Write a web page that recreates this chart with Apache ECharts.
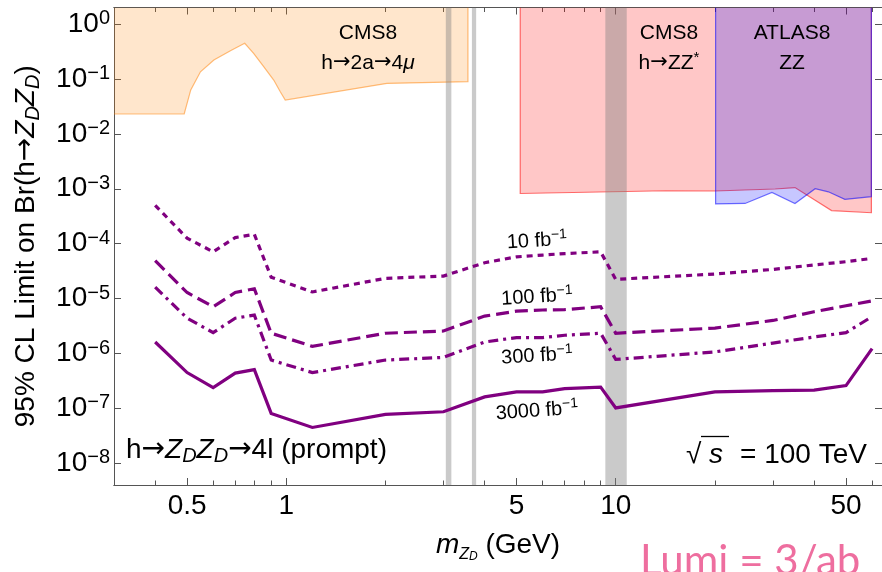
<!DOCTYPE html>
<html><head><meta charset="utf-8">
<script src="https://cdn.jsdelivr.net/npm/echarts@6/dist/echarts.min.js"></script>
<style>html,body{margin:0;padding:0;background:#fff}#c{width:882px;height:572px}</style>
</head><body><div id="c"></div>
<script>
// ---- data ----
const mass = [0.4,0.5,0.6,0.7,0.8,0.9,1.2,2,3,4,5,6,7,9,10,20,30,40,50,60];
const lim10   = [5.0e-4,1.26e-4,7.1e-5,1.29e-4,1.48e-4,2.45e-5,1.32e-5,2.34e-5,2.57e-5,4.5e-5,5.75e-5,6.2e-5,6.6e-5,7.1e-5,2.24e-5,2.8e-5,3.4e-5,4.1e-5,4.7e-5,5.4e-5];
const lim100  = [4.9e-5,1.29e-5,7.1e-6,1.29e-5,1.51e-5,2.34e-6,1.35e-6,2.34e-6,2.57e-6,4.8e-6,5.9e-6,6.2e-6,6.3e-6,7.1e-6,2.34e-6,2.9e-6,4.0e-6,5.75e-6,7.4e-6,9.1e-6];
const lim300  = [1.62e-5,4.4e-6,2.4e-6,4.4e-6,5.0e-6,7.6e-7,4.5e-7,7.6e-7,8.5e-7,1.62e-6,1.95e-6,1.95e-6,2.15e-6,2.34e-6,7.8e-7,1.07e-6,1.55e-6,2.0e-6,2.4e-6,4.7e-6];
const lim3000 = [1.62e-6,4.5e-7,2.4e-7,4.4e-7,5.1e-7,8.1e-8,4.5e-8,7.8e-8,8.7e-8,1.62e-7,2.0e-7,2.0e-7,2.3e-7,2.45e-7,1.02e-7,2.0e-7,2.1e-7,2.15e-7,2.6e-7,1.23e-6];
const cmsHaa = [[0.3,0.023],[0.49,0.023],[0.513,0.063],[0.549,0.135],[0.603,0.221],[0.677,0.327],[0.748,0.445],[0.796,0.292],[0.854,0.167],[0.916,0.0955],[0.959,0.0585],[0.993,0.0413],[2.02,0.083],[3.56,0.089]];
const cmsZZ = [[5.13,8.2e-4],[14.2,9.2e-4],[20,9.1e-4],[30.5,9.9e-4],[35,1.05e-3],[40.3,6.2e-4],[45.2,4.0e-4],[59.7,3.66e-4]];
const atlasZZ = [[20.1,5.3e-4],[24.7,5.4e-4],[29.8,8.6e-4],[35,5.4e-4],[40.3,1.0e-3],[44.2,8.8e-4],[49.6,6.4e-4],[59.7,7.2e-4]];
const vetoBands = [[3.05,3.17],[3.66,3.77],[9.3,10.8]];
const xMajorTicks = [0.5,1,5,10,50];
const xMinorTicks = [0.4,0.6,0.7,0.8,0.9,2,3,4,6,7,8,9,20,30,40,60];
const yTicks = [1e-8,1e-7,1e-6,1e-5,1e-4,1e-3,1e-2,1e-1,1];
const X_MIN = 0.3, X_MAX = 64.3, Y_MIN = 4.03e-9, Y_MAX = 2.0;

// ---- styling ----
const FONT = '"Liberation Sans", Arial, sans-serif';
const AFONT = '"DejaVu Sans", "Liberation Sans", sans-serif';
const PURPLE = '#800080';
const AX = '#555';
const FS = 28;

const chart = echarts.init(document.getElementById('c'));

function expLabel(v){
  const e = Math.round(Math.log10(v));
  return '{b|10}{s|' + (e < 0 ? '\u2212' + (-e) : String(e)) + '}';
}
const yLabelRich = {
  b:{fontSize:FS, lineHeight:31, fontFamily:FONT, color:'#000'},
  s:{fontSize:20, lineHeight:20, fontFamily:FONT, color:'#000', verticalAlign:'top'}
};

function xAxisDef(pos, ticks, len, withLabels){
  return {
    type:'log', position:pos, min:X_MIN, max:X_MAX, gridIndex:0,
    axisLine:{show:true, lineStyle:{color:AX, width:1}},
    axisTick:{show:true, inside:true, length:len, customValues:ticks, lineStyle:{color:AX, width:1}},
    axisLabel:{show:withLabels, customValues:xMajorTicks, margin:7, fontSize:FS, fontFamily:FONT, color:'#000',
      formatter:v => String(+(+v).toPrecision(3))},
    splitLine:{show:false}, minorTick:{show:false}, minorSplitLine:{show:false},
    name: withLabels ? '{i|m}{z|Z}{d|D}{n| (GeV)}' : '',
    nameLocation:'middle', nameGap:45,
    nameTextStyle:{rich:{
      i:{fontSize:FS, fontStyle:'italic', fontFamily:FONT, color:'#000', lineHeight:32, verticalAlign:'top'},
      n:{fontSize:FS, fontFamily:FONT, color:'#000', lineHeight:32, verticalAlign:'top'},
      z:{fontSize:16, fontStyle:'italic', fontFamily:FONT, color:'#000', lineHeight:16, padding:[22,0,0,0], verticalAlign:'bottom'},
      d:{fontSize:12, fontStyle:'italic', fontFamily:FONT, color:'#000', lineHeight:12, padding:[26,0,0,0], verticalAlign:'bottom'}
    }}
  };
}

function regionSeries(points, fill, stroke, leftEdge){
  return {
    type:'custom', coordinateSystem:'cartesian2d', clip:true, silent:true, z:1, animation:false,
    data:[points[0]],
    renderItem(params, api){
      const top = params.coordSys.y;
      const pts = points.map(p => api.coord(p));
      const last = pts[pts.length-1];
      const poly = [[pts[0][0], top]].concat(pts, [[last[0], top]]);
      const border = leftEdge ? poly : pts.concat([[last[0], top]]);
      return {type:'group', children:[
        {type:'polygon', shape:{points:poly}, style:{fill:fill}},
        {type:'polyline', shape:{points:border}, style:{stroke:stroke, fill:null, lineWidth:1.2}}
      ]};
    }
  };
}

function curve(name, vals, dash){
  return {
    type:'line', name:name, data:mass.map((m,i) => [m, vals[i]]),
    showSymbol:false, symbol:'none', z:5, silent:true, animation:false,
    lineStyle:{color:PURPLE, width:3.2, type:dash, cap:'butt', join:'miter'}
  };
}

function txt(x, y, text, rich, align, rotation){
  return {type:'text', x:x, y:y, rotation:rotation || 0, silent:true, z:10,
    style:{text:text, rich:rich, align:align || 'center', verticalAlign:'middle', fontFamily:FONT}};
}
const tRich = (size, color) => ({
  n:{fontSize:size, fontFamily:FONT, color:color, lineHeight:size+4},
  a:{fontSize:size, fontFamily:AFONT, color:color, lineHeight:size+4},
  i:{fontSize:size, fontFamily:FONT, color:color, fontStyle:'italic', lineHeight:size+4},
  p:{fontSize:Math.round(size*0.7), fontFamily:FONT, color:color, lineHeight:Math.round(size*0.7), verticalAlign:'top'},
  b:{fontSize:Math.round(size*0.7), fontFamily:FONT, color:color, fontStyle:'italic', lineHeight:Math.round(size*0.7), padding:[Math.round(size*0.55),0,0,0], verticalAlign:'bottom'}
});

const lumiRich = tRich(20, PURPLE);

chart.setOption({
  animation:false,
  backgroundColor:'#fff',
  grid:{left:113, right:-2, top:7.5, bottom:87, containLabel:false},
  xAxis:[
    xAxisDef('bottom', xMajorTicks, 7, true),
    xAxisDef('bottom', xMinorTicks, 4.5, false),
    xAxisDef('top', xMajorTicks, 7, false),
    xAxisDef('top', xMinorTicks, 4.5, false)
  ],
  yAxis:[
    {type:'log', position:'left', min:Y_MIN, max:Y_MAX,
     axisLine:{show:true, lineStyle:{color:AX}},
     axisTick:{show:true, inside:true, length:7, customValues:yTicks, lineStyle:{color:AX}},
     axisLabel:{show:true, customValues:yTicks, margin:4, formatter:expLabel, rich:yLabelRich},
     splitLine:{show:false}, minorTick:{show:false},
     name:'{n|95% CL Limit on Br(h}{a|\u2192}{i|Z}{b|D}{i|Z}{b|D}{n|)}',
     nameLocation:'middle', nameGap:71, nameRotate:90,
     nameTextStyle:{rich:{
       n:{fontSize:FS, fontFamily:FONT, color:'#000', lineHeight:31, verticalAlign:'top'},
       a:{fontSize:FS, fontFamily:AFONT, color:'#000', lineHeight:31, verticalAlign:'top'},
       i:{fontSize:FS, fontFamily:FONT, color:'#000', fontStyle:'italic', lineHeight:31, verticalAlign:'top'},
       b:{fontSize:20, fontFamily:FONT, color:'#000', fontStyle:'italic', lineHeight:20, padding:[15,0,0,0], verticalAlign:'bottom'}
     }}
    },
    {type:'log', position:'right', min:Y_MIN, max:Y_MAX,
     axisLine:{show:true, lineStyle:{color:AX}},
     axisTick:{show:true, inside:true, length:7, customValues:yTicks, lineStyle:{color:AX}},
     axisLabel:{show:false}, splitLine:{show:false}, minorTick:{show:false}}
  ],
  series:[
    regionSeries(cmsHaa, 'rgba(255,128,0,0.2)', 'rgba(255,128,0,0.5)', false),
    regionSeries(cmsZZ, 'rgba(255,0,0,0.22)', 'rgba(255,0,0,0.55)', true),
    regionSeries(atlasZZ, 'rgba(0,0,255,0.22)', 'rgba(0,0,255,0.55)', true),
    {type:'custom', coordinateSystem:'cartesian2d', clip:true, silent:true, z:2, animation:false,
     data:vetoBands,
     renderItem(params, api){
       const cs = params.coordSys;
       const x0 = api.coord([api.value(0), 1])[0];
       const x1 = api.coord([api.value(1), 1])[0];
       return {type:'rect', shape:{x:x0, y:cs.y, width:x1-x0, height:cs.height}, style:{fill:'rgba(128,128,128,0.42)'}};
     }},
    curve('10 fb-1', lim10, [6,5]),
    curve('100 fb-1', lim100, [13,6]),
    curve('300 fb-1', lim300, [10,5,3,5]),
    curve('3000 fb-1', lim3000, 'solid')
  ],
  graphic:[
    txt(368, 33, '{n|CMS8}', tRich(21,'#B8650F')),
    txt(368, 63, '{n|h}{a|\u2192}{n|2a}{a|\u2192}{n|4}{i|\u03bc}', tRich(21,'#B8650F')),
    txt(669, 33, '{n|CMS8}', tRich(21,'#B40000')),
    txt(669, 63, '{n|h}{a|\u2192}{n|ZZ}{p|*}', tRich(21,'#B40000')),
    txt(792, 33, '{n|ATLAS8}', tRich(21,'#0000B4')),
    txt(792, 63, '{n|ZZ}', tRich(21,'#0000B4')),
    txt(537, 241, '{n|10 fb}{p|\u22121}', lumiRich, 'center', 0.06),
    txt(537, 297, '{n|100 fb}{p|\u22121}', lumiRich, 'center', 0.06),
    txt(537, 356, '{n|300 fb}{p|\u22121}', lumiRich, 'center', 0.06),
    txt(537, 411, '{n|3000 fb}{p|\u22121}', lumiRich, 'center', 0.07),
    txt(126, 450, '{n|h}{a|\u2192}{i|Z}{b|D}{i|Z}{b|D}{a|\u2192}{n|4l (prompt)}', tRich(FS,'#000'), 'left'),
    txt(686, 455, '{n|\u221a}', tRich(FS,'#000'), 'left'),
    txt(709, 455, '{i|s}', tRich(FS,'#000'), 'left'),
    {type:'line', silent:true, z:10, shape:{x1:701, y1:436.5, x2:729, y2:436.5}, style:{stroke:'#000', lineWidth:1.3}},
    txt(740, 455, '{n|= 100 TeV}', tRich(FS,'#000'), 'left'),
    {type:'text', x:640, y:561, silent:true, z:10,
     style:{text:'Lumi = 3/ab', fontFamily:'Lato, "Open Sans", sans-serif', fontSize:42, fill:'#EE6E9F', align:'left', verticalAlign:'middle'}}
  ]
});
</script></body></html>
